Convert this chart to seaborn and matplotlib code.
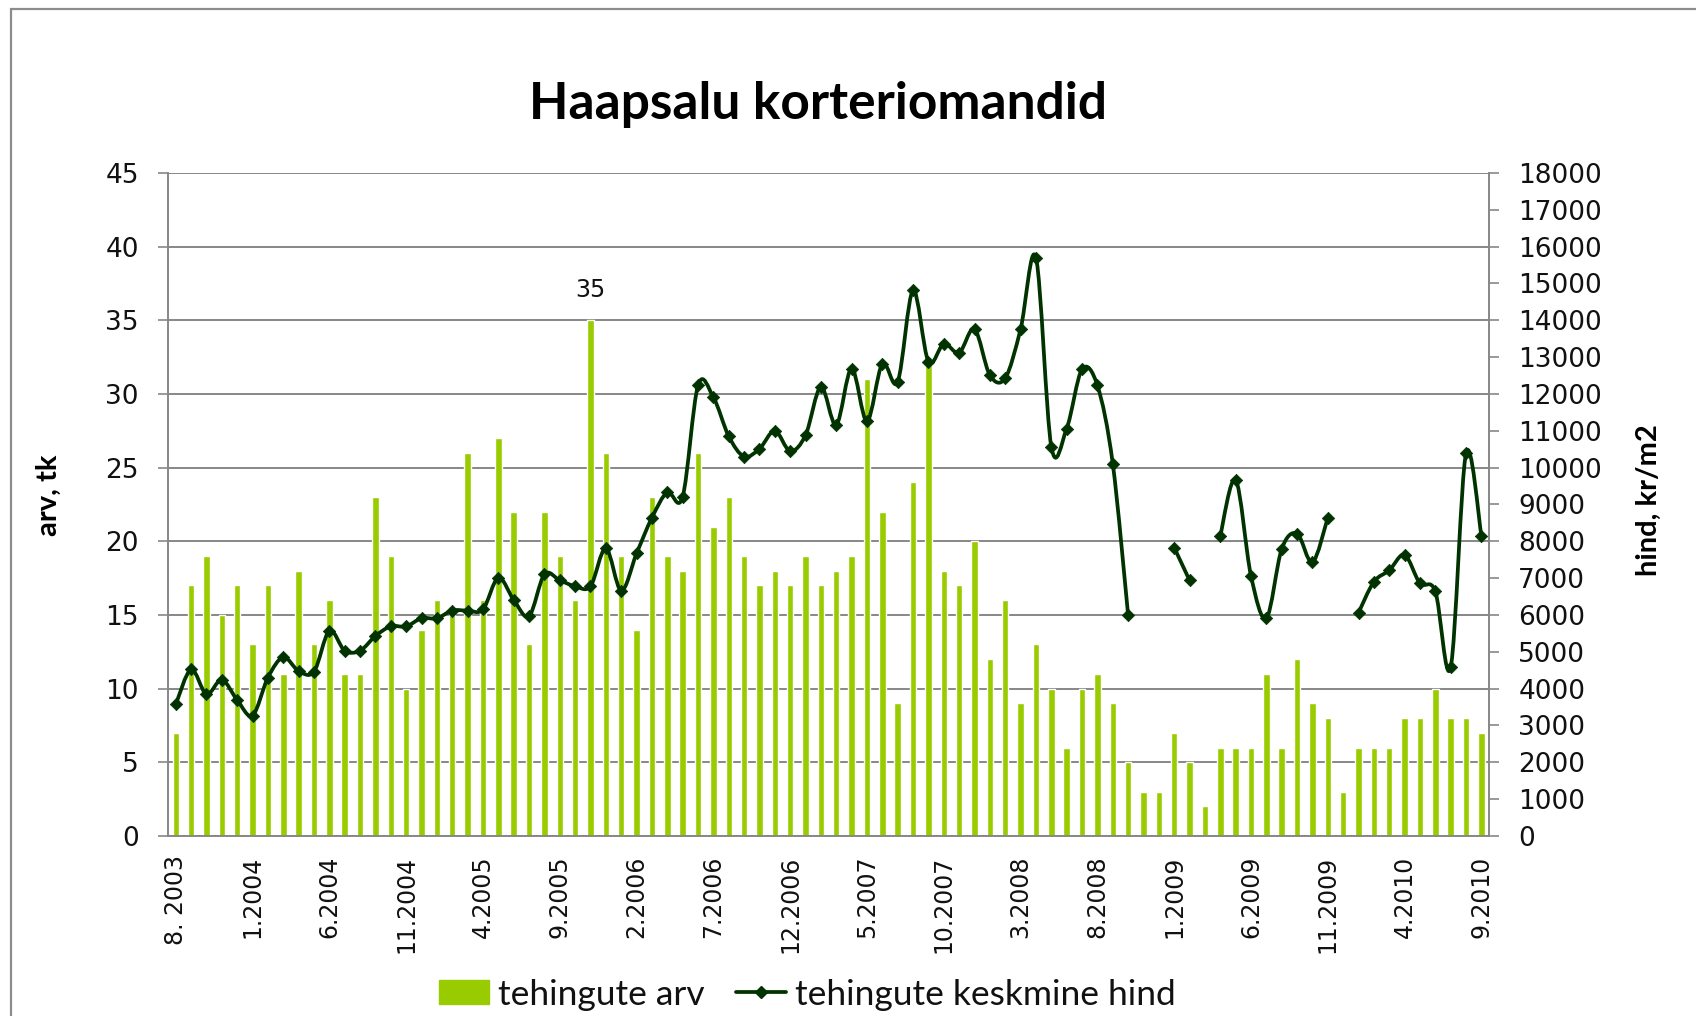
import numpy as np
import pandas as pd
import matplotlib
matplotlib.use("Agg")
import matplotlib.pyplot as plt
import seaborn as sns
from matplotlib.path import Path
from matplotlib.patches import PathPatch, Patch, Rectangle
from matplotlib.lines import Line2D

# Monthly apartment transactions in Haapsalu, 8.2003 - 9.2010
months = [f"{m}.{y}" for y, m in
          [(2003, m) for m in range(8, 13)]
          + [(y, m) for y in range(2004, 2010) for m in range(1, 13)]
          + [(2010, m) for m in range(1, 10)]]

# number of transactions (left axis)
tehingute_arv = [7, 17, 19, 15, 17, 13, 17, 11, 18, 13,
                 16, 11, 11, 23, 19, 10, 14, 16, 15, 26,
                 16, 27, 22, 13, 22, 19, 16, 35, 26, 19,
                 14, 23, 19, 18, 26, 21, 23, 19, 17, 18,
                 17, 19, 17, 18, 19, 31, 22, 9, 24, 32,
                 18, 17, 20, 12, 16, 9, 13, 10, 6, 10,
                 11, 9, 5, 3, 3, 7, 5, 2, 6, 6,
                 6, 11, 6, 12, 9, 8, 3, 6, 6, 6,
                 8, 8, 10, 8, 8, 7]

# average price, kr/m2 (right axis); nan = no price published
nan = np.nan
keskmine_hind = [3570, 4520, 3850, 4240, 3690, 3270, 4300, 4850, 4480, 4460,
                 5570, 5030, 5030, 5430, 5690, 5690, 5910, 5910, 6120, 6120,
                 6150, 7010, 6410, 5970, 7100, 6940, 6780, 6780, 7810, 6660,
                 7670, 8640, 9330, 9210, 12230, 11910, 10850, 10300, 10510, 11000,
                 10450, 10880, 12190, 11160, 12690, 11260, 12820, 12330, 14810, 12880,
                 13360, 13120, 13760, 12510, 12430, 13760, 15700, 10570, 11060, 12670,
                 12230, 10110, 6000, nan, nan, 7830, 6940, nan, 8150, 9670,
                 7060, 5910, 7790, 8210, 7430, 8640, nan, 6060, 6900, 7210,
                 7630, 6860, 6640, 4580, 10390, 8150]

tick_labels = ["8. 2003", "1.2004", "6.2004", "11.2004", "4.2005", "9.2005",
               "2.2006", "7.2006", "12.2006", "5.2007", "10.2007", "3.2008",
               "8.2008", "1.2009", "6.2009", "11.2009", "4.2010", "9.2010"]

left_ticks = [0, 5, 10, 15, 20, 25, 30, 35, 40, 45]
right_ticks = list(range(0, 18001, 1000))

BAR = "#99CC00"
LINE = "#003300"
GRID = "#878787"
TEXT = "#000000"

sns.set_style("white")
plt.rcParams["font.family"] = ["DejaVu Sans"]
plt.rcParams["text.color"] = TEXT

fig = plt.figure(figsize=(16.96, 10.16), dpi=100)
ax = fig.add_axes([0.0991, 0.1772, 0.7789, 0.6526])

df = pd.DataFrame({"kuu": months, "arv": tehingute_arv})
sns.barplot(data=df, x="kuu", y="arv", color=BAR, saturation=1, width=0.42,
            ax=ax, zorder=2)

ax.set_ylim(0, 45)
ax.set_xlim(-0.5, len(months) - 0.5)
ax.set_yticks(left_ticks)
ax.set_yticklabels([str(t) for t in left_ticks])
ax.yaxis.grid(True, color=GRID, linewidth=1.4, zorder=0)
ax.set_axisbelow(True)
ax.set_xlabel("")
ax.set_ylabel("")

# category labels every 5 months, tick marks at month boundaries
ax.set_xticks(list(range(0, len(months), 5)))
ax.set_xticklabels(tick_labels, rotation=90, fontsize=17, ha="center", va="top",
                   color="#111111")
ax.set_xticks(np.arange(-0.5, len(months), 1.0), minor=True)
ax.tick_params(axis="x", which="major", length=0, pad=14)
ax.tick_params(axis="x", which="minor", length=6, width=1.2, color=GRID, direction="out")
ax.tick_params(axis="y", which="major", length=7, width=1.2, color=GRID,
               direction="out", labelsize=19, pad=14, labelcolor="#111111")

for side in ["top", "right"]:
    ax.spines[side].set_visible(False)
for side in ["left", "bottom"]:
    ax.spines[side].set_color(GRID)
    ax.spines[side].set_linewidth(1.4)

# value label on the peak month
peak = int(np.argmax(tehingute_arv))
ax.annotate(str(tehingute_arv[peak]), xy=(peak, tehingute_arv[peak]),
            xytext=(0, 13), textcoords="offset points", ha="center", va="bottom",
            fontsize=17, color="#111111")

# price line on secondary axis
ax2 = ax.twinx()
ax2.set_ylim(0, 18000)
ax2.set_yticks(right_ticks)
ax2.set_yticklabels([str(t) for t in right_ticks])
ax2.tick_params(axis="y", which="major", length=7, width=1.2, color=GRID,
                direction="out", labelsize=19, pad=14, labelcolor="#111111")
for side in ["top", "left", "bottom"]:
    ax2.spines[side].set_visible(False)
ax2.spines["right"].set_color(GRID)
ax2.spines["right"].set_linewidth(1.4)
ax2.grid(False)


def smooth_path(xs, ys):
    """Bezier path through the points with Catmull-Rom style handles."""
    pts = np.column_stack([xs, ys]).astype(float)
    n = len(pts)
    verts = [pts[0]]
    codes = [Path.MOVETO]
    for i in range(n - 1):
        p0 = pts[i - 1] if i > 0 else pts[i]
        p1, p2 = pts[i], pts[i + 1]
        p3 = pts[i + 2] if i + 2 < n else p2
        verts += [p1 + (p2 - p0) / 6.0, p2 - (p3 - p1) / 6.0, p2]
        codes += [Path.CURVE4] * 3
    return Path(verts, codes)


pos = np.arange(len(months))
hind = np.array(keskmine_hind, dtype=float)
valid = ~np.isnan(hind)
start = None
for i in range(len(hind) + 1):
    ok = i < len(hind) and valid[i]
    if ok and start is None:
        start = i
    elif not ok and start is not None:
        seg = slice(start, i)
        if i - start > 1:
            ax2.add_patch(PathPatch(smooth_path(pos[seg], hind[seg]), fill=False,
                                    edgecolor=LINE, linewidth=2.7, zorder=3,
                                    capstyle="round", joinstyle="round"))
        start = None

sns.scatterplot(x=pos[valid], y=hind[valid], marker="D", s=40, color=LINE,
                edgecolor=LINE, linewidth=0.5, ax=ax2, zorder=4, legend=False)
ax2.set_ylabel("")
ax2.set_xlim(-0.5, len(months) - 0.5)

# titles and axis names
fig.text(0.4825, 0.883, "Haapsalu korteriomandid", ha="center", va="baseline",
         fontsize=37, fontweight="bold", color=TEXT, family=["Lato", "DejaVu Sans"])
fig.text(0.0289, 0.5128, "arv, tk", rotation=90, ha="center", va="center",
         fontsize=21, fontweight="bold", color=TEXT, family=["Lato", "DejaVu Sans"])
fig.text(0.9723, 0.508, "hind, kr/m2", rotation=90, ha="center", va="center",
         fontsize=21, fontweight="bold", color=TEXT, family=["Lato", "DejaVu Sans"])

handles = [Patch(facecolor=BAR, edgecolor=BAR),
           Line2D([], [], color=LINE, linewidth=2.7, marker="D", markersize=6)]
leg = fig.legend(handles, ["tehingute arv", "tehingute keskmine hind"], ncol=2,
                 loc="center", bbox_to_anchor=(0.476, 0.021), frameon=False,
                 prop={"family": ["Lato", "DejaVu Sans"], "size": 25.5},
                 handlelength=1.4, handleheight=0.66, handletextpad=0.25,
                 columnspacing=0.9, borderpad=0.0, numpoints=1)
for t in leg.get_texts():
    t.set_color("#111111")

# chart area border
fig.add_artist(Rectangle((11 / 1696, -0.05), 1.2, (1016 - 9) / 1016 + 0.05,
                         transform=fig.transFigure, fill=False,
                         edgecolor="#8c8c8c", linewidth=1.6, clip_on=False))

fig.savefig("out.png", dpi=100, facecolor="white")
